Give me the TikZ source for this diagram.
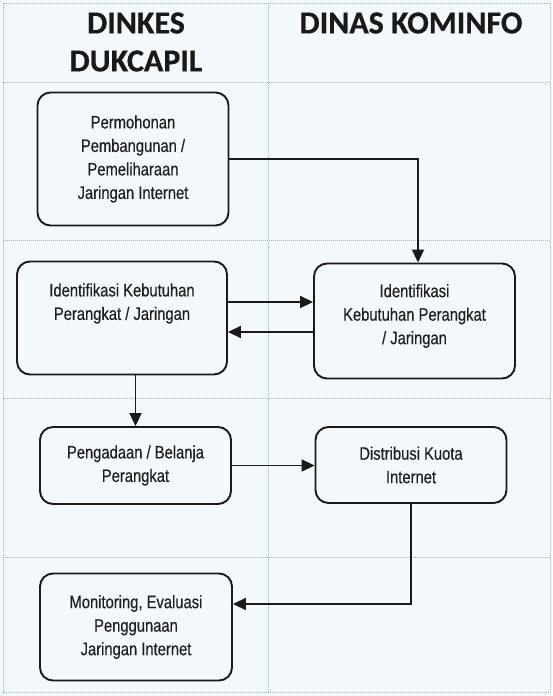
\documentclass[tikz,border=0pt]{standalone}
\usepackage{fontspec}
\setmainfont{Liberation Sans}
\newfontfamily\boxfont[FakeStretch=0.82,FakeBold=0.35]{Liberation Sans}
\newfontfamily\headfont[BoldFeatures={FakeBold=0.6}]{Carlito}
\usetikzlibrary{arrows.meta}
\definecolor{bg}{HTML}{F3F8FC}
\definecolor{gridc}{HTML}{9FB2C6}
\begin{document}
\begin{tikzpicture}[x=1pt,y=-1pt,
  flowbox/.style={draw=black!90, line width=1.9pt, rounded corners=13pt, fill=bg, inner sep=0pt},
  boxtext/.style={font=\boxfont\fontsize{18}{23.5}\selectfont, align=center, text=black!88, inner sep=0pt},
  head/.style={font=\headfont\bfseries\fontsize{32}{38}\selectfont, align=center, text=black!90, inner sep=0pt},
  gridline/.style={draw=gridc, line width=0.6pt, dash pattern=on 1pt off 1pt},
  arr/.style={draw=black!90, line width=1.9pt, -{Triangle[length=13pt,width=12pt]}}
]
\fill[bg] (0,0) rectangle (552,696);
\useasboundingbox (0,0) rectangle (552,696);
% grid
\draw[gridline] (3,3) rectangle (550,692);
\draw[gridline] (268,3) -- (268,692);
\draw[gridline] (3,82) -- (550,82);
\draw[gridline] (3,240) -- (550,240);
\draw[gridline] (3,398) -- (550,398);
\draw[gridline] (3,557) -- (550,557);
% headers
\node[head] (h1) at (136,42) {DINKES\\DUKCAPIL};
\node[head] (h2) at (411,23) {DINAS KOMINFO};
% boxes
\node[flowbox, minimum width=191pt, minimum height=133pt] (b1) at (133,159) {};
\node[boxtext] (t1) at (b1.center) {Permohonan\\Pembangunan /\\Pemeliharaan\\Jaringan Internet};
\node[flowbox, minimum width=210pt, minimum height=113pt] (b2) at (122,318) {};
\node[boxtext] (t2) at (122,303.5) {Identifikasi Kebutuhan\\Perangkat / Jaringan};
\node[flowbox, minimum width=201pt, minimum height=115pt] (b3) at (414.5,321) {};
\node[boxtext] (t3) at (414.5,316) {Identifikasi\\Kebutuhan Perangkat\\/ Jaringan};
\node[flowbox, minimum width=191pt, minimum height=77pt] (b4) at (135.5,465.5) {};
\node[boxtext] (t4) at (b4.center) {Pengadaan / Belanja\\Perangkat};
\node[flowbox, minimum width=191pt, minimum height=76pt] (b5) at (411,465) {};
\node[boxtext] (t5) at (b5.center) {Distribusi Kuota\\Internet};
\node[flowbox, minimum width=192pt, minimum height=107pt] (b6) at (136,627) {};
\node[boxtext] (t6) at (b6.center) {Monitoring, Evaluasi\\Penggunaan\\Jaringan Internet};
% connectors
\coordinate (c1) at (418,0);
\coordinate (yr) at (0,302);
\coordinate (yl) at (0,332);
\coordinate (yt) at (0,604);
\draw[arr] (b1.east) -| (c1 |- b3.north);
\draw[arr] (b2.east |- yr) -- (b3.west |- yr);
\draw[arr] (b3.west |- yl) -- (b2.east |- yl);
\draw[arr] (b4.north |- b2.south) -- (b4.north);
\draw[arr] (b4.east) -- (b5.west |- b4.east);
\draw[arr] (b5.south) -- (b5.south |- yt) -- (b6.east |- yt);
\end{tikzpicture}
\end{document}
